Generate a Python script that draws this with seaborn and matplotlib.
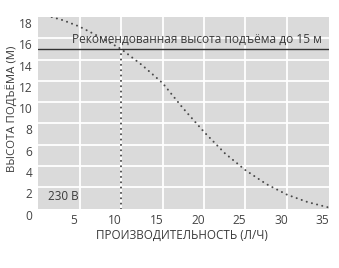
import matplotlib
matplotlib.use("Agg")
import matplotlib.pyplot as plt
import matplotlib.transforms as mtransforms
import seaborn as sns
import pandas as pd

# ---- data ----
flow = [1.65, 3.0, 5.0, 7.5, 10.0, 12.5, 15.0, 17.5, 20.0, 22.5, 25.0, 27.5, 30.0, 32.5, 35.0]
head = [18.0, 17.7, 17.1, 16.1, 15.0, 13.5, 11.8, 9.4, 7.2, 5.2, 3.6, 2.3, 1.3, 0.6, 0.1]
recommended_head = 15
recommended_flow = 10
x_ticks = [5, 10, 15, 20, 25, 30, 35]
y_ticks = [0, 2, 4, 6, 8, 10, 12, 14, 16, 18]
ref_text = "Рекомендованная высота подъёма до 15 м"
voltage_text = "230 В"
x_label = "ПРОИЗВОДИТЕЛЬНОСТЬ (Л/Ч)"
y_label = "ВЫСОТА ПОДЪЁМА (М)"

sns.set_style("white", {"axes.facecolor": "#dadada", "grid.color": "white"})
plt.rcParams["font.family"] = ["Open Sans", "DejaVu Sans"]

dpi = 100
fig = plt.figure(figsize=(339 / dpi, 268 / dpi), dpi=dpi)
ax = fig.add_axes([38 / 339, 1 - 208.5 / 268, (328.5 - 38) / 339, (208.5 - 17) / 268])

dot_style = dict(color="#4a4a4a", linestyle=(0, (0.05, 2.6)), linewidth=1.45,
                 dash_capstyle="round", solid_capstyle="round")

df = pd.DataFrame({"flow": flow, "head": head})
sns.lineplot(data=df, x="flow", y="head", ax=ax, **dot_style)

ax.set_xlim(0, 35)
ax.set_ylim(0, 18)

# grid
for gx in x_ticks[:-1]:
    ax.axvline(gx, color="white", linewidth=1.3, zorder=0.5)
for gy in y_ticks[1:-1]:
    ax.axhline(gy, color="white", linewidth=1.3, zorder=0.5)

ax.axhline(recommended_head, color="#333333", linewidth=1.0, zorder=2)
ax.plot([recommended_flow, recommended_flow], [0, recommended_head], zorder=2, **dot_style)

ax.text(4.1, recommended_head + 0.25, ref_text, fontsize=8.6, color="#3a3a3a",
        ha="left", va="bottom")
ax.text(1.2, 1.1, voltage_text, fontsize=8.4, color="#3a3a3a", ha="left", va="center")

for s in ax.spines.values():
    s.set_visible(False)

ax.set_xticks(x_ticks)
ax.set_yticks(y_ticks)
ax.tick_params(length=0, labelsize=8.6, labelcolor="#444444", pad=4)
ax.set_xlabel(x_label, fontsize=8.4, color="#3a3a3a")
ax.set_ylabel(y_label, fontsize=8.2, color="#3a3a3a")
ax.xaxis.set_label_coords(0.496, -0.138)
ax.yaxis.set_label_coords(-0.09, 0.52)
ax.xaxis.label.set_va("center")
ax.yaxis.label.set_va("center")

off_x = mtransforms.ScaledTranslation(-6 / dpi, 0, fig.dpi_scale_trans)
for lab in ax.get_xticklabels():
    lab.set_transform(lab.get_transform() + off_x)
off_y = mtransforms.ScaledTranslation(0, -6 / dpi, fig.dpi_scale_trans)
for lab in ax.get_yticklabels():
    lab.set_transform(lab.get_transform() + off_y)

fig.savefig("out.png", dpi=dpi)
